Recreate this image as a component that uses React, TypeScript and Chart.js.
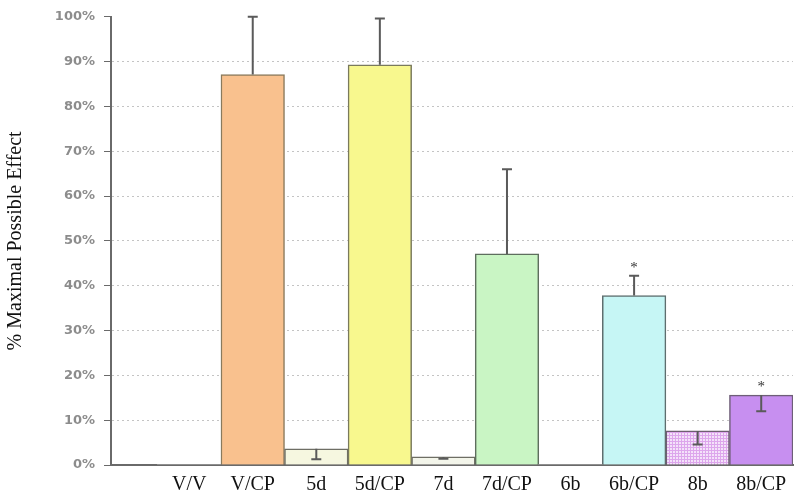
import { useEffect, useRef } from "react";
import { Chart, registerables } from "chart.js";

Chart.register(...registerables);

const categories = ["V/V", "V/CP", "5d", "5d/CP", "7d", "7d/CP", "6b", "6b/CP", "8b", "8b/CP"];
const meanValues = [0, 87.1, 3.6, 89.3, 1.8, 47.1, 0, 37.8, 7.6, 15.6];
const errorEnds: (number | null)[] = [null, 100, 1.3, 99.6, 1.4, 66.0, null, 42.2, 4.6, 12.0];
const starMarks = ["", "", "", "", "", "", "", "*", "", "*"];
const yTickValues = [0, 10, 20, 30, 40, 50, 60, 70, 80, 90, 100];
const barColors = [
  "#ffffff",
  "#f9c18e",
  "#f6f7e0",
  "#f8f88e",
  "#f3f5ea",
  "#c9f5c4",
  "#ffffff",
  "#c6f6f5",
  "PATTERN",
  "#c78ff0",
];
const barBorders = [
  "#6e6e64",
  "#8a7a5c",
  "#6e6e64",
  "#7a7a5c",
  "#6e6e64",
  "#5e6e5e",
  "#6e6e64",
  "#5e6e6e",
  "#6e5e72",
  "#6e5e78",
];

function makePattern(): CanvasPattern | string {
  const c = document.createElement("canvas");
  c.width = 3;
  c.height = 3;
  const g = c.getContext("2d");
  if (!g) return "#ecd6f6";
  g.fillStyle = "#f4e2fa";
  g.fillRect(0, 0, 3, 3);
  g.fillStyle = "#dda6ec";
  g.fillRect(0, 0, 3, 1);
  g.fillRect(0, 0, 1, 3);
  const p = g.createPattern(c, "repeat");
  return p || "#ecd6f6";
}

const errorBarPlugin = {
  id: "errorBars",
  afterDatasetsDraw(chart: any) {
    const { ctx, scales } = chart;
    const x = scales.x;
    const y = scales.y;
    ctx.save();
    ctx.strokeStyle = "#5a5a5a";
    ctx.lineWidth = 2;
    categories.forEach((_, i) => {
      const end = errorEnds[i];
      if (end == null) return;
      const px = x.getPixelForValue(i);
      const y0 = y.getPixelForValue(meanValues[i]);
      const y1 = y.getPixelForValue(end);
      ctx.beginPath();
      ctx.moveTo(px, y0);
      ctx.lineTo(px, y1);
      ctx.moveTo(px - 5, y1);
      ctx.lineTo(px + 5, y1);
      ctx.stroke();
    });
    ctx.fillStyle = "#333";
    ctx.font = "15px 'Liberation Serif'";
    ctx.textAlign = "center";
    ctx.textBaseline = "middle";
    categories.forEach((_, i) => {
      if (!starMarks[i]) return;
      const top = Math.max(meanValues[i], errorEnds[i] ?? 0);
      const px = x.getPixelForValue(i);
      const py = y.getPixelForValue(top) - 8;
      ctx.fillText(starMarks[i], px, py);
    });
    ctx.restore();
  },
};

export default function App() {
  const ref = useRef<HTMLCanvasElement | null>(null);
  useEffect(() => {
    if (!ref.current) return;
    const pattern = makePattern();
    const chart = new Chart(ref.current, {
      type: "bar",
      data: {
        datasets: [
          {
            data: categories.map((_, i) => ({ x: i, y: meanValues[i] })) as any,
            backgroundColor: barColors.map((c) => (c === "PATTERN" ? pattern : c)) as any,
            borderColor: barBorders,
            borderWidth: meanValues.map((v) => (v > 0 ? 1.5 : 0)),
            barPercentage: 1,
            categoryPercentage: 1,
          },
        ],
      },
      options: {
        animation: false,
        responsive: true,
        maintainAspectRatio: false,
        layout: { padding: { top: 13, right: 7, left: 0, bottom: 0 } },
        plugins: {
          legend: { display: false },
          tooltip: { enabled: false },
        },
        scales: {
          x: {
            type: "linear",
            offset: false,
            min: -1.23,
            max: 9.5,
            grid: { display: false, drawTicks: false, offset: false },
            border: { display: true, color: "#6a6a6a", width: 2 },
            afterBuildTicks: (scale: any) => {
              scale.ticks = categories.map((_, i) => ({ value: i }));
            },
            afterFit: (scale: any) => {
              scale.height = 31;
            },
            ticks: {
              autoSkip: false,
              maxRotation: 0,
              padding: 8,
              color: "#111",
              font: { family: "'Liberation Serif', serif", size: 20 },
              callback: (v: any) => categories[v as number] ?? "",
            },
          },
          y: {
            min: 0,
            max: 100,
            afterBuildTicks: (scale: any) => {
              scale.ticks = yTickValues.map((v) => ({ value: v }));
            },
            afterFit: (scale: any) => {
              scale.width = 111;
            },
            grid: {
              color: (ctx: any) =>
                ctx.tick && (ctx.tick.value === 0 || ctx.tick.value === 100) ? "rgba(0,0,0,0)" : "#c4c4c4",
              tickColor: "#6a6a6a",
              tickLength: 7,
              lineWidth: 1,
              tickBorderDash: [],
            },
            border: { display: true, color: "#6a6a6a", width: 2, dash: [2, 3] },
            ticks: {
              padding: 9,
              color: "#8c8c8c",
              font: { family: "'DejaVu Sans', sans-serif", size: 13, weight: "bold" },
              callback: (v: any) => `${v}%`,
            },
            title: {
              display: true,
              text: "% Maximal Possible Effect",
              color: "#111",
              font: { family: "'Liberation Serif', serif", size: 20 },
              padding: { top: 4, bottom: 0 },
            },
          },
        },
      },
      plugins: [errorBarPlugin],
    });
    return () => chart.destroy();
  }, []);
  return (
    <div style={{ position: "fixed", left: 0, top: 0, width: 800, height: 496, background: "#fff" }}>
      <canvas ref={ref} />
    </div>
  );
}
